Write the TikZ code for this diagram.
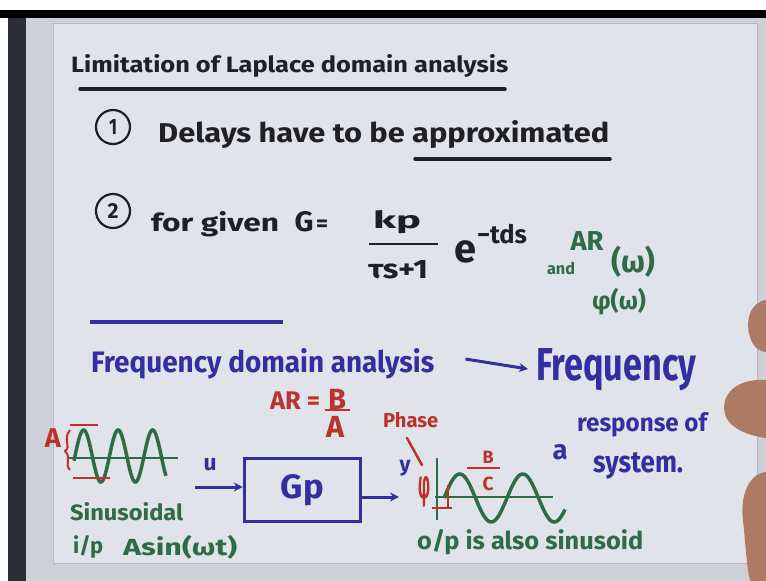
\documentclass[tikz,border=0pt]{standalone}
\usepackage{fontspec}
\setmainfont{Fira Sans}
\usepackage{graphicx}
\usetikzlibrary{arrows.meta}
\definecolor{ink}{HTML}{202024}
\definecolor{bink}{HTML}{3230A0}
\definecolor{gink}{HTML}{2E6B47}
\definecolor{rink}{HTML}{BA332C}
\definecolor{board}{HTML}{E0E3E9}
\definecolor{edgec}{HTML}{CDD0D7}
\definecolor{frameln}{HTML}{B4B8C1}
\definecolor{stripc}{HTML}{2A2D33}
\definecolor{skin}{HTML}{AE7A64}
\newcommand{\hw}[2]{\resizebox{#1pt}{!}{\bfseries #2}}
\newcommand{\hwh}[3]{\resizebox{#1pt}{#2pt}{\bfseries #3}}
\begin{document}
\begin{tikzpicture}[x=1pt,y=-1pt,
  txt/.style={inner sep=0pt, anchor=west},
  ctxt/.style={inner sep=0pt},
  inkline/.style={line width=3.5pt, line cap=round},
  marr/.style={line width=3pt, -{Stealth[length=9pt,width=9pt]}},
  numcirc/.style={circle, draw=ink, line width=2.2pt, minimum size=34pt, inner sep=0pt, text=ink}]
% background
\useasboundingbox (0,0) rectangle (766,581);
\fill[white] (0,0) rectangle (766,581);
\fill[black] (0,10) rectangle (766,18);
\fill[stripc] (8,18) rectangle (26,581);
\fill[edgec] (26,18) rectangle (766,581);
\fill[board] (53,23) rectangle (757,563);
\draw[frameln, line width=1pt] (53,23) rectangle (757,563);
% hand
\fill[skin] (766,300) .. controls (750,302) and (744,322) .. (751,340) .. controls (756,352) and (766,352) .. (766,352) -- cycle;
\fill[skin] (766,380) .. controls (736,378) and (720,395) .. (725,414) .. controls (730,434) and (766,438) .. (766,438) -- cycle;
\fill[skin] (766,472) .. controls (748,474) and (740,497) .. (743,520) .. controls (746,550) and (748,581) .. (751,581) -- (766,581) -- cycle;

% title
\node[txt, text=ink] (title) at (71,66) {\hwh{437}{18}{Limitation of Laplace domain analysis}};
\draw[ink, inkline] (80,89) -- (505,89);

% item 1
\node[numcirc] (n1) at (113,127) {\hwh{8}{15}{1}};
\node[txt, text=ink] (delays) at (158,135) {\hwh{451}{22}{Delays have to be approximated}};
\draw[ink, inkline] (415,159) -- (610,159);

% item 2
\node[numcirc] (n2) at (113,211) {\hwh{11}{15}{2}};
\node[txt, text=ink] (forg) at (151,224) {\hwh{128}{20}{for given}};
\node[ctxt, text=ink] (gg) at (304,222) {\hwh{19}{20}{G}};
\node[ctxt, text=ink] (geq) at (322,226) {\hw{12}{=}};
\node[ctxt, text=ink] (kp) at (397,222) {\hwh{48}{18}{kp}};
\draw[ink, line width=2.5pt] (369,244) -- (438,244);
\node[ctxt, text=ink] (den) at (398,270) {\hwh{60}{18}{τs+1}};
\node[ctxt, text=ink] (ee) at (465,252) {\hw{22}{e}};
\node[ctxt, text=ink] (tds) at (502,234) {\hw{50}{−tds}};
\node[ctxt, text=gink] (arl) at (587,241) {\hw{33}{AR}};
\node[ctxt, text=gink] (omg1) at (633,262) {\hw{44}{(ω)}};
\node[ctxt, text=gink] (andl) at (561,268) {\hw{28}{and}};
\node[ctxt, text=gink] (phl) at (619,302) {\hw{54}{φ(ω)}};

% divider
\draw[bink, line width=4pt] (90,322) -- (283,322);

% frequency line
\node[txt, text=bink] (fda) at (91,364) {\hwh{343}{24}{Frequency domain analysis}};
\node[txt, text=bink] (freq) at (536,370) {\hwh{160}{32}{Frequency}};
\draw[bink, marr] ([xshift=31pt,yshift=5pt]fda.east) -- ([xshift=-8pt,yshift=1pt]freq.west);
\node[txt, text=bink] (resp) at (577,425) {\hwh{130}{19}{response of}};
\node[ctxt, text=bink] (aa) at (560,452) {\hw{15}{a}};
\node[txt, text=bink] (sys) at (593,466) {\hwh{90}{20}{system.}};

% AR = B/A, phase
\node[txt, text=rink] (areq) at (270,401) {\hw{50}{AR =}};
\node[ctxt, text=rink] (bb) at (337,399) {\hw{18}{B}};
\draw[rink, line width=2pt] (325,410) -- (350,410);
\node[ctxt, text=rink] (aden) at (335,427) {\hw{18}{A}};
\node[txt, text=rink] (phase) at (383,420) {\hw{55}{Phase}};
\draw[rink, line width=2.5pt, line cap=round] (407,438) -- (422,465);

% input sinusoid
\draw[gink, line width=2.5pt] (68,458) -- (178,458);
\draw[gink, line width=3.5pt] plot[domain=74:166, samples=90] (\x, {456-26*sin((\x-75)*10.4348)});
\draw[rink, line width=2pt] (70,425) -- (98,425);
\draw[rink, line width=2pt] (73,478) -- (110,478);
\node[ctxt, text=rink] (alab) at (53,438) {\hw{16}{A}};
\draw[rink, line width=2pt] (70,430) .. controls (62,440) and (72,446) .. (65,451) .. controls (72,458) and (64,464) .. (70,470);
\node[txt, text=gink] (sinl) at (70,512) {\hwh{113}{18}{Sinusoidal}};
\node[txt, text=gink] (ip) at (73,547) {\hwh{30}{18}{i/p}};
\node[txt, text=gink] (asin) at (123,547) {\hwh{114}{20}{Asin(ωt)}};

% block
\node[draw=bink, line width=3.5pt, minimum width=116pt, minimum height=63pt, inner sep=0pt, text=bink] (gp) at (302.5,490) {\hwh{43}{24}{Gp}};
\coordinate (uin) at (195,487);
\draw[bink, marr] (uin) -- (gp.west |- uin);
\node[ctxt, text=bink] (ulab) at (210,465) {\hw{13}{u}};
\coordinate (yout) at (399,497);
\draw[bink, marr] (gp.east |- yout) -- (yout);
\node[ctxt, text=bink] (ylab) at (405,468) {\hw{11}{y}};

% output sinusoid
\node[ctxt, text=rink] (phi) at (424,492) {\hwh{12}{22}{φ}};
\draw[gink, line width=2.5pt] (437,458) -- (437,520);
\draw[gink, line width=2.5pt] (435,497) -- (553,497);
\draw[gink, line width=3.5pt] plot[domain=444:565, samples=100] (\x, {498-24*sin((\x-444)*5.7143)});
\node[ctxt, text=rink] (bout) at (488,457) {\hw{11}{B}};
\draw[rink, line width=2pt] (467,468) -- (500,468);
\node[ctxt, text=rink] (cout) at (488,484) {\hw{11}{C}};
\draw[rink, line width=2pt] (448,485) -- (448,507);
\draw[rink, line width=2pt] (432,508) -- (452,508);
\node[txt, text=gink] (opl) at (417,542) {\hwh{226}{20}{o/p is also sinusoid}};
\end{tikzpicture}
\end{document}
